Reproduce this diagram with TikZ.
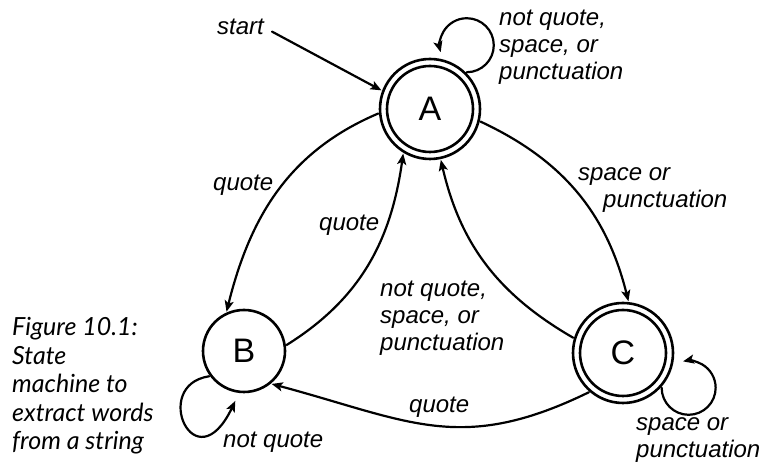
\documentclass[tikz,border=0pt]{standalone}
\usepackage{fontspec}
\setmainfont{Liberation Sans}
\newfontfamily\captionfont{Lato}
\usetikzlibrary{arrows.meta}

\begin{document}
\begin{tikzpicture}[x=1pt, y=1pt, >={Stealth[length=11pt, width=9pt, inset=2.5pt]}, line join=round, line cap=round,
		state/.style={circle, draw, line width=2.6pt, minimum size=82pt, inner sep=0pt, outer sep=2pt, font=\fontsize{34}{34}\selectfont},
		accept/.style={state, minimum size=100pt},
		trans/.style={->, line width=2.2pt},
		lbl/.style={font=\fontsize{24}{27}\selectfont\itshape, inner sep=0pt, align=left, anchor=base west}]
	\useasboundingbox (0,0) rectangle (762,470);
	% states
	\node[accept] (A) at (430,361) {A};
	\node[state] (B) at (244,119) {B};
	\node[accept] (C) at (623,117) {C};
	\draw[line width=2.6pt] (A) circle (43pt) (C) circle (43pt);
	% start
	\node[lbl] (start) at (217,435) {start};
	\draw[trans, shorten <=9pt] (start.east) -- (A.159);
	% transitions (labels anchored at the baseline of their last line)
	\draw[trans] (A.45) arc[start angle=-90, end angle=195, radius=27];
	\node[lbl] (loopA) at (499,390) {not quote,\\space, or\\punctuation};
	\draw[trans] (A.185) to[out=203, in=76] (B.114);
	\node[lbl] (qAB) at (213,279) {quote};
	\draw[trans] (B.8) to[out=32, in=262] (A.239);
	\node[lbl] (qBA) at (319,239) {quote};
	\draw[trans] (A.-14) to[out=-25, in=104] (C.84);
	\node[lbl] (sAC) at (578,262) {space or\\\hspace*{25pt}punctuation};
	\draw[trans] (C.163) to[out=150, in=283] (A.-78);
	\node[lbl] (nCA) at (380,119) {not quote,\\space, or\\punctuation};
	\draw[trans] (C.229) to[out=206, in=-15, looseness=1.15] (B.-50);
	\node[lbl] (qCB) at (409,57) {quote};
	\draw[trans, shorten >=8pt] (B.216) .. controls (150,85) and (195,-15) .. (B.263);
	\node[lbl] (loopB) at (223,22) {not quote};
	\draw[trans] (C.-42) arc[start angle=180, end angle=462, radius=27];
	\node[lbl] (loopC) at (636,12) {space or\\punctuation};
	% caption
	\node[lbl, font=\captionfont\fontsize{25}{28.5}\selectfont\itshape] (cap) at (12,20) {Figure 10.1:\\State\\machine to\\extract words\\from a string};
\end{tikzpicture}
\end{document}
